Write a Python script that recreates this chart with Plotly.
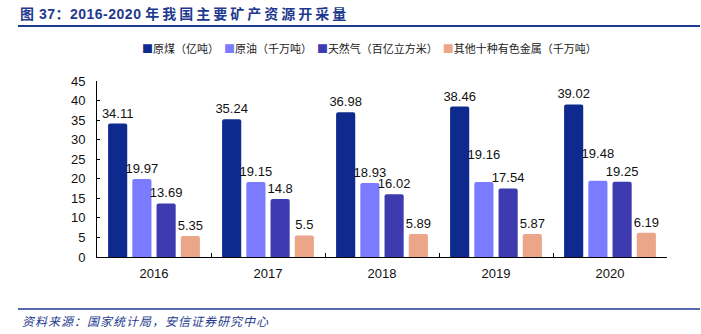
import plotly.graph_objects as go

years = ["2016", "2017", "2018", "2019", "2020"]
coal = [34.11, 35.24, 36.98, 38.46, 39.02]
oil = [19.97, 19.15, 18.93, 19.16, 19.48]
gas = [13.69, 14.8, 16.02, 17.54, 19.25]
metals = [5.35, 5.5, 5.89, 5.87, 6.19]
names = ["原煤（亿吨）", "原油（千万吨）", "天然气（百亿立方米）", "其他十种有色金属（千万吨）"]
colors = ["#0E2A8E", "#7B7BFF", "#3D3BAF", "#EBA68A"]
series = [coal, oil, gas, metals]

# labels lifted one line to avoid overlapping neighbours (as in the reference)
lifted = {(1, "2019"), (1, "2020")}

fig = go.Figure()
for i, (nm, vals, c) in enumerate(zip(names, series, colors)):
    texts = []
    for yr, v in zip(years, vals):
        t = f"{v:g}"
        if (i, yr) in lifted:
            t += "<br>&nbsp;"
        texts.append(t)
    fig.add_trace(go.Bar(
        x=years, y=vals, name=nm, marker=dict(color=c, line=dict(width=0), cornerradius=2),
        text=texts, textposition="outside",
        textfont=dict(size=13, color="#111111", family="Liberation Sans, Arial"),
        constraintext="none", cliponaxis=False, showlegend=False,
    ))

legend_txt = "&nbsp;&nbsp;".join(
    f'<span style="color:{c}">■</span>{nm}' for nm, c in zip(names, colors)
)

fig.update_layout(
    width=701, height=334,
    margin=dict(l=97, r=34, t=81, b=77),
    paper_bgcolor="white", plot_bgcolor="white",
    barmode="group", bargap=0.15, bargroupgap=0.21,
    font=dict(family="Liberation Sans, Arial", size=13, color="#111111"),
    title=dict(
        text='<b><span style="letter-spacing:0.5px">图 37：2016-2020</span> '
             '<span style="letter-spacing:3px">年我国主要矿产资源开采量</span></b>',
        x=20 / 701, xanchor="left", y=1 - 14 / 334, yanchor="middle",
        font=dict(size=14, color="#1E3A8E", family="Liberation Sans, Noto Sans CJK SC"),
    ),
    xaxis=dict(
        type="category", showline=True, linecolor="#000000", linewidth=1,
        ticks="inside", ticklen=4, tickson="boundaries", tickcolor="#000000",
        showgrid=False, tickfont=dict(size=13), ticklabelstandoff=4,
    ),
    yaxis=dict(
        range=[0, 45], dtick=5, showline=True, linecolor="#000000", linewidth=1,
        ticks="inside", ticklen=3, tickcolor="#000000", showgrid=False,
        zeroline=False, tickfont=dict(size=13), ticklabelstandoff=8,
    ),
    annotations=[
        dict(text=legend_txt, xref="paper", yref="paper",
             x=(140 - 97) / 570, y=(257 - 48) / 176, xanchor="left", yanchor="middle",
             showarrow=False, font=dict(size=11, color="#222222", family="Noto Sans CJK SC")),
        dict(text='<i><span style="letter-spacing:1px">资料来源：国家统计局，安信证券研究中心</span></i>',
             xref="paper", yref="paper",
             x=(20 - 97) / 570, y=(257 - 320) / 176, xanchor="left", yanchor="middle",
             showarrow=False, font=dict(size=12, color="#1E3A8E", family="Noto Sans CJK SC")),
    ],
    shapes=[
        dict(type="line", xref="paper", yref="paper",
             x0=(18 - 97) / 570, x1=(700 - 97) / 570, y0=(257 - 26) / 176, y1=(257 - 26) / 176,
             line=dict(color="#1E3A8E", width=2)),
        dict(type="line", xref="paper", yref="paper",
             x0=(18 - 97) / 570, x1=(700 - 97) / 570, y0=(257 - 309) / 176, y1=(257 - 309) / 176,
             line=dict(color="#1E3A8E", width=1.5)),
    ],
)

fig.write_html("out.html")
